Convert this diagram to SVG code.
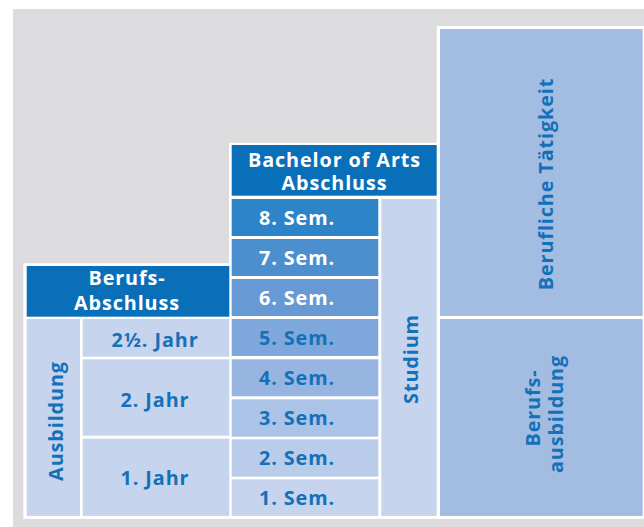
<svg xmlns="http://www.w3.org/2000/svg" width="644" height="527" viewBox="0 0 644 527">
<style>
text{font-family:"Open Sans","Noto Sans","Liberation Sans",sans-serif;font-weight:bold;font-size:19.8px;letter-spacing:0.9px;text-anchor:middle}
.w{fill:#ffffff}
.b{fill:#1470b8}
.hd{fill:#0a6fb9}
.lt{fill:#c6d5ed}
.rt{fill:#a3bde2}
</style>
<rect x="0" y="0" width="644" height="527" fill="#ffffff"/>
<rect x="13" y="9" width="631" height="518" fill="#dcdcde"/>
<path d="M23.3,519 L23.3,263.3 L229,263.3 L229,142.7 L436.7,142.7 L436.7,26 L644,26 L644,519 Z" fill="#ffffff"/>
<g id="berufsabschluss">
<rect class="hd" x="26.7" y="266" width="202.6" height="50.7"/>
<text class="w" x="127" y="285">Berufs-</text>
<text class="w" x="127" y="309.5">Abschluss</text>
</g>
<g id="ausbildung">
<rect class="lt" x="26.7" y="319" width="53.3" height="197"/>
<text class="b" transform="translate(62.5,421) rotate(-90)">Ausbildung</text>
</g>
<g id="jahr25">
<rect class="lt" x="82.7" y="319" width="146.6" height="37.7"/>
<text class="b" x="155" y="346.5">2½. Jahr</text>
</g>
<g id="jahr2">
<rect class="lt" x="82.7" y="359.3" width="146.6" height="76.4"/>
<text class="b" x="155" y="406.5">2. Jahr</text>
</g>
<g id="jahr1">
<rect class="lt" x="82.7" y="438.7" width="146.6" height="77.3"/>
<text class="b" x="155" y="484.5">1. Jahr</text>
</g>
<g id="bachelor">
<rect class="hd" x="231.7" y="145" width="205" height="50.7"/>
<text class="w" x="334.5" y="166.5">Bachelor of Arts</text>
<text class="w" x="334.5" y="189.5">Abschluss</text>
</g>
<g id="sem8">
<rect x="231.7" y="199" width="146.6" height="37" fill="#2d84c9"/>
<text class="w" x="297" y="225">8. Sem.</text>
</g>
<g id="sem7">
<rect x="231.7" y="239" width="146.6" height="37" fill="#4b8fcf"/>
<text class="w" x="297" y="265">7. Sem.</text>
</g>
<g id="sem6">
<rect x="231.7" y="279" width="146.6" height="37" fill="#6799d4"/>
<text class="w" x="297" y="305">6. Sem.</text>
</g>
<g id="sem5">
<rect x="231.7" y="319" width="146.6" height="37" fill="#7ea8db"/>
<text class="b" x="297" y="345">5. Sem.</text>
</g>
<g id="sem4">
<rect x="231.7" y="359.3" width="146.6" height="37" fill="#97b5e0"/>
<text class="b" x="297" y="385.3">4. Sem.</text>
</g>
<g id="sem3">
<rect x="231.7" y="399.3" width="146.6" height="37.4" fill="#abc3e6"/>
<text class="b" x="297" y="425.3">3. Sem.</text>
</g>
<g id="sem2">
<rect x="231.7" y="439.3" width="146.6" height="37.4" fill="#b9cdea"/>
<text class="b" x="297" y="465.3">2. Sem.</text>
</g>
<g id="sem1">
<rect x="231.7" y="479.3" width="146.6" height="36.7" fill="#c6d5ed"/>
<text class="b" x="297" y="505.3">1. Sem.</text>
</g>
<g id="studium">
<rect class="lt" x="381.3" y="199" width="55.4" height="317"/>
<text class="b" transform="translate(417.5,359) rotate(-90)">Studium</text>
</g>
<g id="taetigkeit">
<rect class="rt" x="440" y="29" width="202.7" height="287"/>
<text class="b" transform="translate(552.5,184) rotate(-90)">Berufliche Tätigkeit</text>
</g>
<g id="berufsausbildung">
<rect class="rt" x="440" y="319" width="202.7" height="197"/>
<text class="b" transform="translate(539.5,408) rotate(-90)">Berufs-</text>
<text class="b" transform="translate(562.5,414) rotate(-90)">ausbildung</text>
</g>
<g id="connectors"></g>
</svg>
